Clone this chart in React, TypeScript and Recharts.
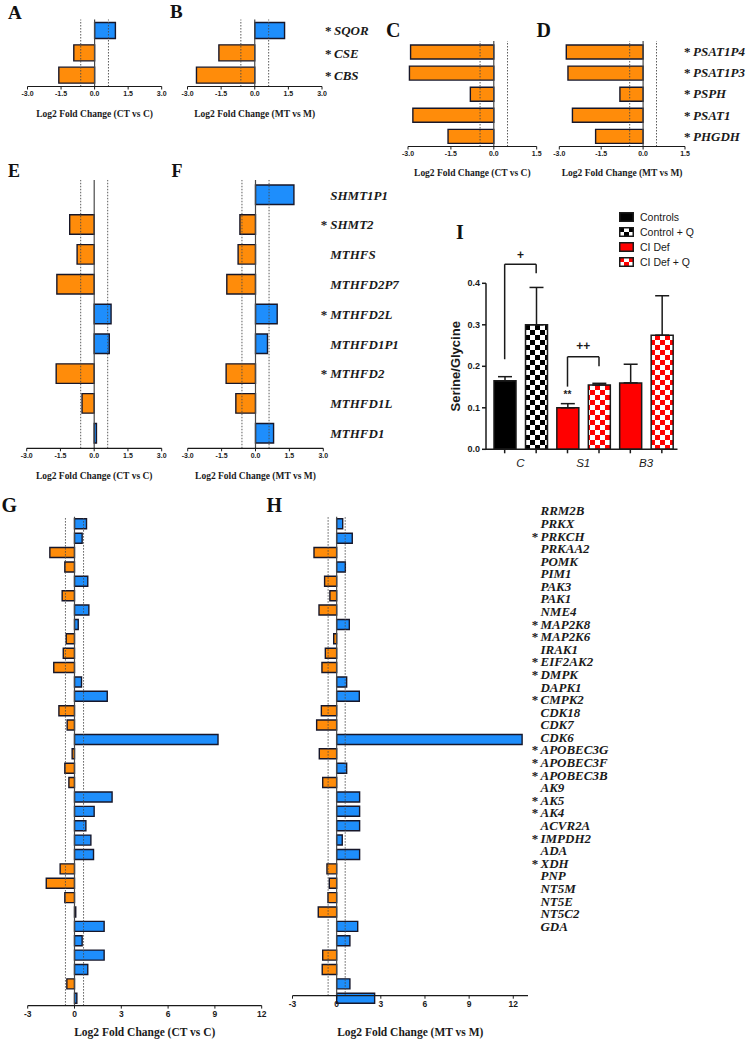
import React from 'react';
import { BarChart, Bar, XAxis, YAxis, Cell, ReferenceLine, ReferenceDot, ErrorBar, Legend } from 'recharts';

const ORANGE = '#ff8c0a';
const BLUE = '#1e8efc';
const EDGE = '#17172a';
const INK = '#1a1a1a';
const GUIDE = '#4a4a4a';
const SERIF = '"Liberation Serif", "Times New Roman", serif';
const SANS = '"Liberation Sans", Arial, Helvetica, sans-serif';

// A / B - sulfur metabolism
const sulfurGenes = ['SQOR', 'CSE', 'CBS'];
const sulfurCT = [0.93, -0.93, -1.6];
const sulfurMT = [1.33, -1.6, -2.6];

// C / D - serine synthesis
const serineGenes = ['PSAT1P4', 'PSAT1P3', 'PSPH', 'PSAT1', 'PHGDH'];
const serineCT = [-2.91, -2.95, -0.82, -2.83, -1.6];
const serineMT = [-2.75, -2.69, -0.83, -2.53, -1.7];

// E / F - folate cycle
const folateGenes = ['SHMT1P1', 'SHMT2', 'MTHFS', 'MTHFD2P7', 'MTHFD2L', 'MTHFD1P1', 'MTHFD2', 'MTHFD1L', 'MTHFD1'];
const folateCT = [0, -1.09, -0.76, -1.66, 0.75, 0.67, -1.69, -0.54, 0.1];
const folateMT = [1.7, -0.69, -0.77, -1.27, 0.96, 0.53, -1.3, -0.87, 0.8];

// G / H - nucleotide metabolism / kinases
const nucGenes = [
  'RRM2B', 'PRKX', 'PRKCH', 'PRKAA2', 'POMK', 'PIM1', 'PAK3', 'PAK1', 'NME4', 'MAP2K8', 'MAP2K6', 'IRAK1',
  'EIF2AK2', 'DMPK', 'DAPK1', 'CMPK2', 'CDK18', 'CDK7', 'CDK6', 'APOBEC3G', 'APOBEC3F', 'APOBEC3B', 'AK9',
  'AK5', 'AK4', 'ACVR2A', 'IMPDH2', 'ADA', 'XDH', 'PNP', 'NT5M', 'NT5E', 'NT5C2', 'GDA',
];
const nucCT = [
  0.77, 0.49, -1.58, -0.62, 0.85, -0.79, 0.92, 0.24, -0.53, -0.72, -1.33, 0.45, 2.1, -1.0, -0.47, 9.2, -0.15,
  -0.62, -0.36, 2.41, 1.26, 0.73, 1.05, 1.22, -0.92, -1.81, -0.62, 0.08, 1.9, 0.49, 1.9, 0.85, -0.49, 0.15,
];
const nucMT = [
  0.41, 1.06, -1.54, 0.59, -0.82, -0.46, -1.2, 0.86, -0.2, -0.77, -1.0, 0.68, 1.54, -1.04, -1.36, 12.6, -1.18,
  0.68, -0.95, 1.56, 1.56, 1.56, 0.38, 1.56, -0.66, -0.5, -0.59, -1.25, 1.43, 0.9, -0.95, -0.98, 0.9, 2.58,
];

const starredGenes = [
  'SQOR', 'CSE', 'CBS', 'PSAT1P4', 'PSAT1P3', 'PSPH', 'PSAT1', 'PHGDH', 'SHMT2', 'MTHFD2L', 'MTHFD2',
  'PRKCH', 'MAP2K8', 'MAP2K6', 'EIF2AK2', 'DMPK', 'CMPK2', 'APOBEC3G', 'APOBEC3F', 'APOBEC3B', 'AK5', 'AK4',
  'IMPDH2', 'XDH',
];
const starred = new Set(starredGenes);

const ticksAB = [-3, -1.5, 0, 1.5, 3];
const ticksCD = [-3, -1.5, 0, 1.5];
const ticksGH = [-3, 0, 3, 6, 9, 12];

// I - serine/glycine ratio
const ratioGroups = ['C', 'S1', 'B3'];
const baseMean = [0.165, 0.1, 0.16];
const baseSem = [0.01, 0.01, 0.045];
const qMean = [0.3, 0.155, 0.275];
const qSem = [0.09, 0.004, 0.095];
const legendItems = ['Controls', 'Control + Q', 'CI Def', 'CI Def + Q'];

// significance brackets: each joins the two bars of one group
const bracketGroup = ['C', 'S1'];
const bracketTop = [0.446, 0.223];
const bracketLeftEnd = [0.217, 0.151];
const bracketRightEnd = [0.424, 0.2];
const bracketMarks = ['+', '++'];
const bracketMarkY = [0.468, 0.249];
const starMarkGroup = 'S1';
const starMarkY = 0.133;

const SOLID: Record<string, string> = { C: '#000000', S1: '#ff0000', B3: '#ff0000' };
const CHECK: Record<string, string> = { C: 'url(#chkBlack)', S1: 'url(#chkRed)', B3: 'url(#chkRed)' };
const legendFills = ['#000000', 'url(#chkBlack)', '#ff0000', 'url(#chkRed)'];

const I_BAR = 22;
const I_GAP = 9.5;
const HALF_SLOT = (I_BAR + I_GAP) / 2;

type NameAxis = { starDx: number; textDx: number; padTop?: number; padBottom?: number };

type FoldProps = {
  box: [number, number, number, number];
  plot: [number, number, number, number];
  genes: string[];
  values: number[];
  domain: [number, number];
  ticks: number[];
  digits: number;
  thr: number;
  barSize: number;
  title: string;
  titleSize: number;
  tickFont: number;
  leftAxis?: boolean;
  names?: NameAxis;
  barPadBottom?: number;
};

function GeneTick(props: any) {
  const { x, y, payload, starDx, textDx } = props;
  const name = payload.value;
  return (
    <g fontFamily={SERIF} fontWeight={700} fontSize={13} fill={INK}>
      {starred.has(name) && (
        <text x={x + starDx} y={y} dy="0.36em">*</text>
      )}
      <text x={x + textDx} y={y} dy="0.36em" fontStyle="italic">{name}</text>
    </g>
  );
}

function FoldPanel({
  box, plot, genes, values, domain, ticks, digits, thr, barSize, title, titleSize, tickFont,
  leftAxis = true, names, barPadBottom = 0,
}: FoldProps) {
  const [L, T, W, H0] = box;
  const H = H0 + 4; // room for descenders under the axis title
  const [x0, y0, x1, y1] = plot;
  const rows = genes.map((gene, i) => ({ gene, v: values[i] }));
  return (
    <div style={{ position: 'absolute', left: L, top: T, width: W, height: H }}>
      <BarChart
        width={W}
        height={H}
        layout="vertical"
        data={rows}
        margin={{ left: x0 - L, top: y0 - T, right: names ? 0 : L + W - x1, bottom: 0 }}
      >
        <XAxis
          type="number"
          domain={domain}
          ticks={ticks}
          interval={0}
          allowDataOverflow
          height={T + H - y1}
          tickFormatter={(v: number) => v.toFixed(digits)}
          tick={{ fontSize: tickFont, fontFamily: SANS, fontWeight: 700, fill: INK }}
          tickSize={3}
          tickMargin={2}
          axisLine={{ stroke: INK, strokeWidth: 1.2 }}
          tickLine={{ stroke: INK, strokeWidth: 1 }}
          label={{ value: title, position: 'insideBottom', offset: 4, fontSize: titleSize, fontWeight: 700, fontFamily: SERIF, fill: INK }}
        />
        <YAxis
          yAxisId="bars"
          type="category"
          dataKey="gene"
          width={0}
          tick={false}
          tickLine={false}
          axisLine={leftAxis ? { stroke: GUIDE, strokeWidth: 1.2 } : false}
          padding={{ top: 0, bottom: barPadBottom }}
        />
        {names && (
          <YAxis
            yAxisId="names"
            orientation="right"
            type="category"
            dataKey="gene"
            width={L + W - x1}
            interval={0}
            axisLine={false}
            tickLine={false}
            tickSize={0}
            tickMargin={0}
            padding={{ top: names.padTop ?? 0, bottom: names.padBottom ?? 0 }}
            tick={(t: any) => <GeneTick {...t} starDx={names.starDx} textDx={names.textDx} />}
          />
        )}
        <Bar yAxisId="bars" dataKey="v" barSize={barSize} stroke={EDGE} strokeWidth={1.4} isAnimationActive={false}>
          {rows.map((r) => (
            <Cell key={r.gene} fill={r.v < 0 ? ORANGE : BLUE} />
          ))}
        </Bar>
        <ReferenceLine yAxisId="bars" x={0} stroke={GUIDE} strokeWidth={1.2} />
        <ReferenceLine yAxisId="bars" x={-thr} stroke={GUIDE} strokeWidth={0.9} strokeDasharray="1.5 1.5" />
        <ReferenceLine yAxisId="bars" x={thr} stroke={GUIDE} strokeWidth={0.9} strokeDasharray="1.5 1.5" />
      </BarChart>
    </div>
  );
}

function GroupTick(props: any) {
  const { x, y, payload } = props;
  return (
    <g>
      <line x1={x - HALF_SLOT} x2={x - HALF_SLOT} y1={y} y2={y + 4} stroke={INK} strokeWidth={1.5} />
      <line x1={x + HALF_SLOT} x2={x + HALF_SLOT} y1={y} y2={y + 4} stroke={INK} strokeWidth={1.5} />
      <text x={x} y={y + 17.5} textAnchor="middle" fontSize={11.5} fontStyle="italic" fontFamily={SANS} fill={INK}>
        {payload.value}
      </text>
    </g>
  );
}

// bracket pieces sit on a group's centre and are shifted to its bars
const shiftedLine = (dx1: number, dx2: number) => (p: any) => (
  <line x1={p.x1 + dx1} y1={p.y1} x2={p.x2 + dx2} y2={p.y2} stroke={INK} strokeWidth={1.5} />
);
const markText = (text: string, size: number, dx: number) => (p: any) => (
  <text x={p.cx + dx} y={p.cy} textAnchor="middle" dominantBaseline="central" fontSize={size} fontWeight={700} fontFamily={SANS} fill={INK}>
    {text}
  </text>
);

const YLabel = (p: any) => {
  const vb = p.viewBox || { x: 0, y: 0, width: 0, height: 0 };
  const cx = vb.x + 16;
  const cy = vb.y + vb.height / 2;
  return (
    <text
      x={cx}
      y={cy}
      transform={`rotate(-90 ${cx} ${cy})`}
      textAnchor="middle"
      dominantBaseline="central"
      fontSize={13}
      fontFamily={SANS}
      fontWeight={600}
      fill={INK}
    >
      Serine/Glycine
    </text>
  );
};

const renderLegend = () => (
  <div style={{ fontFamily: SANS, fontSize: 10.5, color: INK, whiteSpace: 'nowrap' }}>
    {legendItems.map((name, i) => (
      <div key={name} style={{ display: 'flex', alignItems: 'center', height: 15 }}>
        <svg width={15} height={10} style={{ marginRight: 6, display: 'block' }}>
          <rect x={0.75} y={0.75} width={13.5} height={8.5} fill={legendFills[i]} stroke={INK} strokeWidth={1.5} />
        </svg>
        <span>{name}</span>
      </div>
    ))}
  </div>
);

function SerinePanel() {
  const rows = ratioGroups.map((g, i) => ({
    group: g,
    base: baseMean[i],
    baseErr: [0, baseSem[i]],
    q: qMean[i],
    qErr: [0, qSem[i]],
  }));
  return (
    <div style={{ position: 'absolute', left: 440, top: 200, width: 270, height: 275 }}>
      <BarChart
        width={270}
        height={275}
        data={rows}
        margin={{ top: 83.3, right: 32.5, left: 0, bottom: 0 }}
        barSize={I_BAR}
        barGap={I_GAP}
      >
        <defs>
          <pattern id="chkBlack" width={10} height={10} patternUnits="userSpaceOnUse">
            <rect width={10} height={10} fill="#ffffff" />
            <rect width={5} height={5} fill="#000000" />
            <rect x={5} y={5} width={5} height={5} fill="#000000" />
          </pattern>
          <pattern id="chkRed" width={10} height={10} patternUnits="userSpaceOnUse">
            <rect width={10} height={10} fill="#ffffff" />
            <rect width={5} height={5} fill="#ff0000" />
            <rect x={5} y={5} width={5} height={5} fill="#ff0000" />
          </pattern>
        </defs>
        <XAxis
          dataKey="group"
          height={25.7}
          padding={{ left: 3, right: 0 }}
          interval={0}
          axisLine={{ stroke: INK, strokeWidth: 1.5 }}
          tickLine={false}
          tickSize={0}
          tickMargin={0}
          tick={(t: any) => <GroupTick {...t} />}
        />
        <YAxis
          domain={[0, 0.4]}
          ticks={[0, 0.1, 0.2, 0.3, 0.4]}
          interval={0}
          allowDataOverflow
          width={46}
          tickFormatter={(v: number) => v.toFixed(1)}
          tick={{ fontSize: 9, fontFamily: SANS, fontWeight: 700, fill: INK }}
          tickSize={4}
          tickMargin={2}
          axisLine={{ stroke: INK, strokeWidth: 1.5 }}
          tickLine={{ stroke: INK, strokeWidth: 1.5 }}
          label={{ content: YLabel }}
        />
        <Bar dataKey="base" stroke={INK} strokeWidth={1.5} isAnimationActive={false}>
          {rows.map((r) => (
            <Cell key={r.group} fill={SOLID[r.group]} />
          ))}
          <ErrorBar dataKey="baseErr" width={7} stroke={INK} strokeWidth={1.5} />
        </Bar>
        <Bar dataKey="q" stroke={INK} strokeWidth={1.5} isAnimationActive={false}>
          {rows.map((r) => (
            <Cell key={r.group} fill={CHECK[r.group]} />
          ))}
          <ErrorBar dataKey="qErr" width={7} stroke={INK} strokeWidth={1.5} />
        </Bar>
        {bracketGroup.map((g, i) => (
          <React.Fragment key={`br${g}`}>
            <ReferenceLine
              segment={[{ x: g, y: bracketLeftEnd[i] }, { x: g, y: bracketTop[i] }]}
              ifOverflow="visible"
              shape={shiftedLine(-HALF_SLOT, -HALF_SLOT)}
            />
            <ReferenceLine
              segment={[{ x: g, y: bracketTop[i] }, { x: g, y: bracketTop[i] }]}
              ifOverflow="visible"
              shape={shiftedLine(-HALF_SLOT, HALF_SLOT)}
            />
            <ReferenceLine
              segment={[{ x: g, y: bracketTop[i] }, { x: g, y: bracketRightEnd[i] }]}
              ifOverflow="visible"
              shape={shiftedLine(HALF_SLOT, HALF_SLOT)}
            />
            <ReferenceDot
              x={g}
              y={bracketMarkY[i]}
              r={2}
              ifOverflow="visible"
              shape={markText(bracketMarks[i], 12, 0)}
            />
          </React.Fragment>
        ))}
        <ReferenceDot
          x={starMarkGroup}
          y={starMarkY}
          r={2}
          ifOverflow="visible"
          shape={markText('**', 10, -HALF_SLOT)}
        />
        <Legend
          content={renderLegend}
          layout="vertical"
          align="center"
          verticalAlign="middle"
          wrapperStyle={{ left: 179, top: 9.2, width: 'auto', height: 'auto' }}
        />
      </BarChart>
    </div>
  );
}

const panelLetters = [
  { t: 'A', x: 8, y: 6, s: 19 },
  { t: 'B', x: 170, y: 5, s: 19 },
  { t: 'C', x: 386, y: 24, s: 20 },
  { t: 'D', x: 536.5, y: 24, s: 20 },
  { t: 'E', x: 8, y: 165, s: 18 },
  { t: 'F', x: 171.5, y: 165, s: 18 },
  { t: 'G', x: 1.5, y: 498.5, s: 20 },
  { t: 'H', x: 266.5, y: 498.5, s: 20 },
  { t: 'I', x: 456, y: 226, s: 20 },
];

export default function App() {
  return (
    <div style={{ position: 'absolute', left: 0, top: 0, width: 750, height: 1041, background: '#ffffff', overflow: 'hidden' }}>
      <FoldPanel
        box={[0, 0, 170, 116.5]}
        plot={[27.5, 19.5, 161.7, 86.5]}
        genes={sulfurGenes}
        values={sulfurCT}
        domain={[-3, 3]}
        ticks={ticksAB}
        digits={1}
        thr={0.62}
        barSize={16}
        title="Log2 Fold Change (CT vs C)"
        titleSize={9.5}
        tickFont={7}
      />
      <FoldPanel
        box={[170, 0, 250, 116.5]}
        plot={[187.5, 19.5, 322, 86.5]}
        genes={sulfurGenes}
        values={sulfurMT}
        domain={[-3, 3]}
        ticks={ticksAB}
        digits={1}
        thr={0.62}
        barSize={16}
        title="Log2 Fold Change (MT vs M)"
        titleSize={9.5}
        tickFont={7}
        names={{ starDx: 3, textDx: 12 }}
      />
      <FoldPanel
        box={[380, 20, 165, 156.2]}
        plot={[408, 41, 536.7, 146.5]}
        genes={serineGenes}
        values={serineCT}
        domain={[-3, 1.5]}
        ticks={ticksCD}
        digits={1}
        thr={0.48}
        barSize={14}
        title="Log2 Fold Change (CT vs C)"
        titleSize={9.5}
        tickFont={7}
        leftAxis={false}
      />
      <FoldPanel
        box={[530, 20, 220, 156.2]}
        plot={[559.3, 41, 685, 146.5]}
        genes={serineGenes}
        values={serineMT}
        domain={[-3, 1.5]}
        ticks={ticksCD}
        digits={1}
        thr={0.48}
        barSize={14}
        title="Log2 Fold Change (MT vs M)"
        titleSize={9.5}
        tickFont={7}
        names={{ starDx: -1, textDx: 8 }}
      />
      <FoldPanel
        box={[0, 160, 170, 319.2]}
        plot={[26.7, 180, 161.7, 448.3]}
        genes={folateGenes}
        values={folateCT}
        domain={[-3, 3]}
        ticks={ticksAB}
        digits={1}
        thr={0.6}
        barSize={19.5}
        title="Log2 Fold Change (CT vs C)"
        titleSize={9.5}
        tickFont={7}
      />
      <FoldPanel
        box={[170, 160, 245, 319.2]}
        plot={[187.7, 180, 323.3, 448.3]}
        genes={folateGenes}
        values={folateMT}
        domain={[-3, 3]}
        ticks={ticksAB}
        digits={1}
        thr={0.6}
        barSize={19.5}
        title="Log2 Fold Change (MT vs M)"
        titleSize={9.5}
        tickFont={7}
        names={{ starDx: -2.6, textDx: 7 }}
      />
      <FoldPanel
        box={[0, 500, 280, 536.3]}
        plot={[27.7, 516.8, 261.7, 1005.6]}
        genes={nucGenes}
        values={nucCT}
        domain={[-3, 12]}
        ticks={ticksGH}
        digits={0}
        thr={0.58}
        barSize={10}
        title="Log2 Fold Change (CT vs C)"
        titleSize={11.5}
        tickFont={8.5}
      />
      <FoldPanel
        box={[275, 500, 475, 535.7]}
        plot={[292.5, 516.8, 528, 995.7]}
        genes={nucGenes}
        values={nucMT}
        domain={[-3, 13]}
        ticks={ticksGH}
        digits={0}
        thr={0.58}
        barSize={10}
        title="Log2 Fold Change (MT vs M)"
        titleSize={11.5}
        tickFont={8.5}
        barPadBottom={-9.9}
        names={{ starDx: 3.7, textDx: 12.5, padTop: -12.4, padBottom: 63.4 }}
      />
      <SerinePanel />
      {panelLetters.map((l) => (
        <div
          key={l.t}
          style={{
            position: 'absolute',
            left: l.x,
            top: l.y - 0.18 * l.s,
            fontFamily: SERIF,
            fontWeight: 700,
            fontSize: l.s,
            lineHeight: 1,
            color: '#111',
          }}
        >
          {l.t}
        </div>
      ))}
    </div>
  );
}
